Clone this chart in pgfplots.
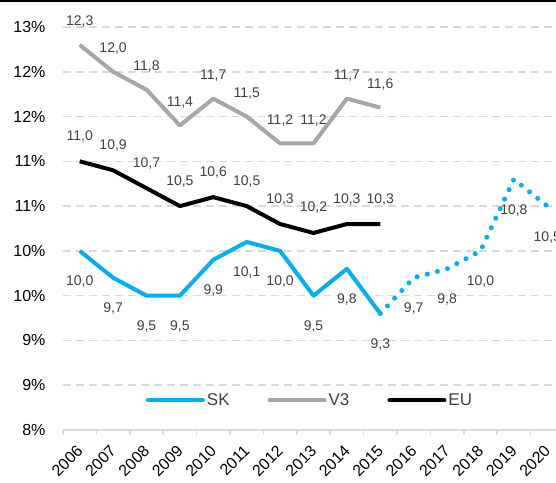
\documentclass[border=0pt]{standalone}
\usepackage{fontspec}
\setmainfont{Liberation Sans}
\usepackage{pgfplots}
\pgfplotsset{compat=1.18}
\definecolor{skblue}{HTML}{00B0F0}
\definecolor{vgray}{HTML}{A6A6A6}
\definecolor{gridgray}{HTML}{D9D9D9}
\definecolor{lblgray}{HTML}{404040}
\begin{document}
\begin{tikzpicture}
\begin{axis}[
  name=ax,
  scale only axis,
  width=501pt, height=403pt,
  xmin=2005.5, xmax=2020.5,
  ymin=8, ymax=12.5,
  axis line style={draw=none},
  axis x line*=bottom,
  ytick={8,8.5,9,9.5,10,10.5,11,11.5,12,12.5},
  yticklabels={8\%,9\%,9\%,10\%,10\%,11\%,11\%,12\%,12\%,13\%},
  xtick={2006,2007,2008,2009,2010,2011,2012,2013,2014,2015,2016,2017,2018,2019,2020},
  xticklabels={2006,2007,2008,2009,2010,2011,2012,2013,2014,2015,2016,2017,2018,2019,2020},
  minor xtick={2005.5,2006.5,2007.5,2008.5,2009.5,2010.5,2011.5,2012.5,2013.5,2014.5,2015.5,2016.5,2017.5,2018.5,2019.5,2020.5},
  major tick length=0pt,
  minor tick length=5pt,
  tick align=outside,
  minor tick style={draw=gridgray, line width=1.5pt},
  ymajorgrids,
  major grid style={draw=gridgray, line width=1.5pt, dash pattern=on 8pt off 5pt},
  tick label style={font=\fontsize{16}{18}\selectfont, text=black},
  yticklabel style={anchor=east, xshift=-14pt},
  xticklabel style={xshift=-4pt, yshift=-14pt, rotate=45, anchor=north east, inner sep=0pt},
  every node near coord/.append style={font=\fontsize{14}{16}\selectfont, text=lblgray, anchor=center},
  nodes near coords={\pgfmathprintnumber[fixed,fixed zerofill,precision=1,use comma,assume math mode=true]{\pgfplotspointmeta}},
  legend columns=3,
  legend style={at={(0.493,0.074)}, anchor=center, draw=none, fill=none,
    font=\fontsize{17}{19}\selectfont, text=lblgray,
    /tikz/every even column/.append style={column sep=36pt},
    inner sep=0pt},
  legend image code/.code={\draw[#1, line width=4pt, line cap=round] (0pt,0pt) -- (55pt,0pt);},
  clip=false,
]
\addplot[forget plot, draw=gridgray, line width=1.5pt, no marks, nodes near coords={}] coordinates {(2005.5,8) (2020.5,8)};
\addplot[skblue, line width=4pt, line join=round, no marks,
  every node near coord/.append style={yshift=-31pt}] coordinates {
(2006,10.0) (2007,9.7) (2008,9.5) (2009,9.5) (2010,9.9) (2011,10.1) (2012,10.0) (2013,9.5) (2014,9.8) (2015,9.3)};
\addlegendentry{SK}
\addplot[vgray, line width=4pt, line join=round, no marks,
  every node near coord/.append style={yshift=23pt}] coordinates {
(2006,12.3) (2007,12.0) (2008,11.8) (2009,11.4) (2010,11.7) (2011,11.5) (2012,11.2) (2013,11.2) (2014,11.7) (2015,11.6)};
\addlegendentry{V3}
\addplot[black, line width=4pt, line join=round, no marks,
  every node near coord/.append style={yshift=25pt}] coordinates {
(2006,11.0) (2007,10.9) (2008,10.7) (2009,10.5) (2010,10.6) (2011,10.5) (2012,10.3) (2013,10.2) (2014,10.3) (2015,10.3)};
\addlegendentry{EU}
\addplot[forget plot, skblue, line width=5pt, line cap=round, dash pattern=on 0pt off 10.5pt, no marks, nodes near coords={}] coordinates {
(2015,9.3) (2016,9.7) (2017,9.8) (2018,10.0) (2019,10.8) (2020,10.5)};
\addplot[forget plot, draw=none, no marks,
  every node near coord/.append style={yshift=-31pt}] coordinates {
(2016,9.7) (2017,9.8) (2018,10.0) (2019,10.8) (2020,10.5)};
\end{axis}
\draw[line width=1.5pt] ([shift={(-63pt,26.2pt)}]ax.north west) -- ([shift={(-8pt,26.2pt)}]ax.north east);
\pgfresetboundingbox
\path ([shift={(-63pt,-53pt)}]ax.south west) rectangle ([shift={(-8pt,27pt)}]ax.north east);
\end{tikzpicture}
\end{document}
